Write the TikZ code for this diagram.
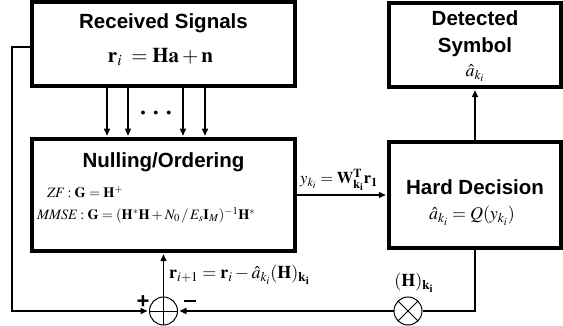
\documentclass[tikz,border=0pt]{standalone}
\usepackage{amsmath,amssymb}
\usepackage{mathptmx}
\usepackage{fontspec}
\setsansfont{Liberation Sans}
\usepackage{tikz}
\usetikzlibrary{arrows.meta, positioning, calc}

\begin{document}
\begin{tikzpicture}[x=1pt, y=-1pt,
    box/.style={rectangle, draw, line width=3.5pt, inner sep=0pt},
    title/.style={font=\sffamily\bfseries\fontsize{20.5}{27}\selectfont, align=center},
    eq/.style={font=\fontsize{18}{20}\selectfont, inner sep=1pt},
    fml/.style={font=\fontsize{14.3}{16}\selectfont, anchor=west, inner sep=0pt},
    sign/.style={font=\sffamily\bfseries\fontsize{22}{24}\selectfont, inner sep=0pt},
    arr/.style={-{Triangle[length=7pt,width=6pt]}, line width=1.4pt, shorten >=1.5pt},
    line/.style={line width=1.4pt},
    sumnode/.style={circle, draw, line width=1pt, minimum size=28pt, inner sep=0pt,
        path picture={\draw[line width=0.8pt] (path picture bounding box.north) -- (path picture bounding box.south)
            (path picture bounding box.west) -- (path picture bounding box.east);}},
    mulnode/.style={circle, draw, line width=1pt, minimum size=28pt, inner sep=0pt,
        path picture={\draw[line width=0.8pt] (path picture bounding box.north west) -- (path picture bounding box.south east)
            (path picture bounding box.south west) -- (path picture bounding box.north east);}}
]
\useasboundingbox (0,0) rectangle (563,326);

\node[box, minimum width=263pt, minimum height=84pt] (rx) at (163.5,44) {};
\node[box, minimum width=263pt, minimum height=112pt] (nul) at (163.5,195) {};
\node[box, minimum width=172pt, minimum height=84pt] (ds) at (475,45) {};
\node[box, minimum width=172pt, minimum height=106pt] (hd) at (475,195) {};

\node[title] (rxt) at (163.5,23) {Received Signals};
\node[eq, font=\fontsize{21}{23}\selectfont] (rxe) at (160.5,57) {$\mathbf{r}_i\;=\mathbf{Ha}+\mathbf{n}$};

\node[title] (nult) at (163.5,162) {Nulling/Ordering};
\node[fml] (zf) at (47,192) {$\mathit{ZF}:\mathbf{G}=\mathbf{H}^{+}$};
\node[fml] (mmse) at (37,215) {$\mathit{MMSE}:\mathbf{G}=(\mathbf{H}^{*}\mathbf{H}+N_0\,/\,E_s\mathbf{I}_M)^{-1}\mathbf{H}^{*}$};

\node[title] (dst) at (475,33.5) {Detected\\Symbol};
\node[eq] (dse) at (475,73) {$\hat{a}_{k_i}$};

\node[title] (hdt) at (475,187) {Hard Decision};
\node[eq] (hde) at (472,216) {$\hat{a}_{k_i}=Q(y_{k_i})$};

\node[font=\fontsize{16.5}{18}\selectfont, inner sep=0pt] (yk) at (339,180) {$y_{k_i}=\mathbf{W}_{\mathbf{k_i}}^{\mathbf{T}}\mathbf{r_1}$};

\foreach \dx in {-56.5,-35.5,19.5,41.5}
  \draw[arr] ([xshift=\dx pt]rx.south) -- ([xshift=\dx pt]nul.north);
\node[font=\fontsize{10}{12}\selectfont] (dots) at (156,113) {$\bullet$\hspace{8pt}$\bullet$\hspace{8pt}$\bullet$};

\draw[arr] (nul) -- (hd);
\draw[arr] (hd) -- (ds);

\coordinate (lp) at (12,311);
\node[sumnode] (sub) at (163.5,311) {};
\node[mulnode] (mul) at (408,311) {};
\draw[arr] ([yshift=-3pt]rx.west) -| (lp) -- (sub);
\draw[line] (hd) |- (mul);
\draw[arr] (mul) -- (sub);
\draw[arr] (sub) -- (nul);

\node[sign] (plus) at (143,302) {+};
\node[sign] (minus) at (190,301) {\rule{12pt}{2.2pt}};
\node[eq, anchor=west] (upd) at (168,275) {$\mathbf{r}_{i+1}=\mathbf{r}_i-\hat{a}_{k_i}(\mathbf{H})_{\mathbf{k_i}}$};
\node[eq] (hk) at (414,283) {$(\mathbf{H})_{\mathbf{k_i}}$};
\end{tikzpicture}
\end{document}
